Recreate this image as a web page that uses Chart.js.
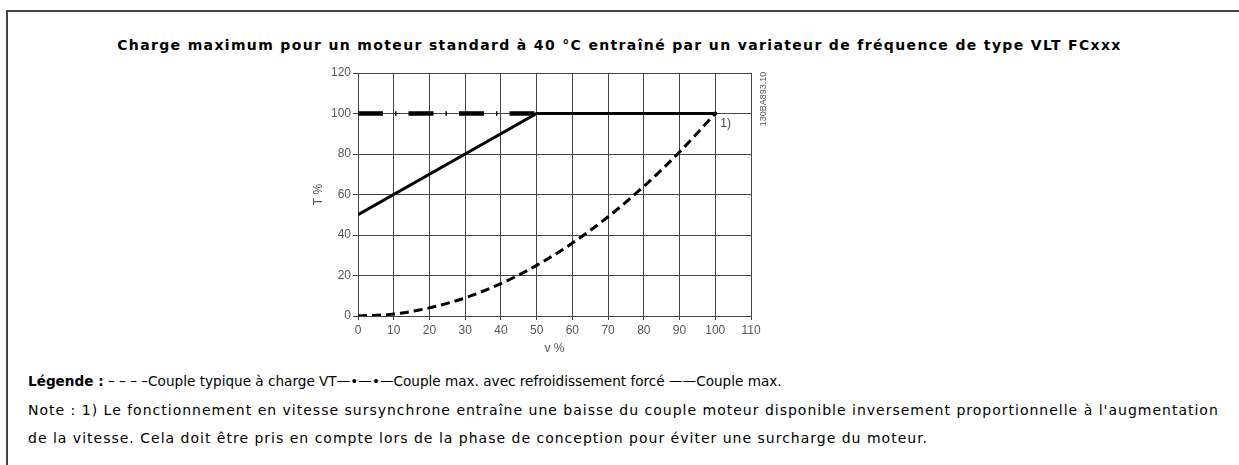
<!DOCTYPE html>
<html lang="fr">
<head>
<meta charset="utf-8">
<title>Charge maximum pour un moteur standard</title>
<script src="https://cdn.jsdelivr.net/npm/chart.js@4/dist/chart.umd.min.js"></script>
<style>
  html, body { margin: 0; padding: 0; background: #fff; }
  body {
    width: 1239px; height: 465px; position: relative; overflow: hidden;
    font-family: "DejaVu Sans", Verdana, sans-serif; color: #000;
  }
  .frame {
    position: absolute; left: 6px; top: 10px; right: 0; bottom: 0;
    border-top: 2px solid #444; border-left: 2px solid #444;
  }
  .title {
    position: absolute; left: 0; width: 1239px; top: 31px;
    line-height: 28px; text-align: center; font-weight: bold; font-size: 14px;
    letter-spacing: 1.35px;
  }
  .legend, .note {
    position: absolute; left: 28px; line-height: 28px; white-space: nowrap;
  }
  .legend { top: 367px; font-size: 13.6px; }
  .note { top: 396px; font-size: 14px; letter-spacing: 1px; }
  #chart-wrap { position: absolute; left: 300px; top: 60px; width: 480px; height: 300px; }
</style>
</head>
<body>
<div class="frame"></div>
<div class="title">Charge maximum pour un moteur standard à 40 °C entraîné par un variateur de fréquence de type VLT FCxxx</div>
<div id="chart-wrap"><canvas id="loadChart" width="480" height="300"></canvas></div>
<div class="legend"><b>Légende :</b> – – – –Couple typique à charge VT—•—•—Couple max. avec refroidissement forcé ——Couple max.</div>
<div class="note">Note : 1) Le fonctionnement en vitesse sursynchrone entraîne une baisse du couple moteur disponible inversement proportionnelle à l'augmentation<br>de la vitesse. Cela doit être pris en compte lors de la phase de conception pour éviter une surcharge du moteur.</div>

<script>
// Typical torque at variable-torque load (dashed curve)
const speedVT = [0, 10, 20, 30, 40, 50, 60, 70, 80, 90, 100];
const torqueVT = [0, 1, 4, 9, 16, 25, 36, 49, 64, 81, 100];

// Max torque with forced cooling (dash-dot)
const speedForced = [0, 50];
const torqueForced = [100, 100];

// Max torque (solid)
const speedMax = [0, 50, 100];
const torqueMax = [50, 100, 100];

const xTicks = [0, 10, 20, 30, 40, 50, 60, 70, 80, 90, 100, 110];
const yTicks = [0, 20, 40, 60, 80, 100, 120];

const toPoints = (xs, ys) => xs.map((v, i) => ({ x: v, y: ys[i] }));

const tickFont = { family: '"Liberation Sans", Arial, sans-serif', size: 12 };
const gridColor = '#444';

// small texts placed next to the plot: the "1)" marker and the drawing reference
const annotations = {
    id: 'annotations',
    afterDatasetsDraw(chart) {
        const { ctx, chartArea, scales: { x, y } } = chart;
        ctx.save();
        ctx.fillStyle = '#444';
        ctx.textBaseline = 'middle';
        ctx.font = '12px "Liberation Sans", Arial, sans-serif';
        ctx.fillText('1)', x.getPixelForValue(100) + 5, y.getPixelForValue(100) + 10);

        ctx.font = '9px "Liberation Sans", Arial, sans-serif';
        ctx.fillStyle = '#555';
        ctx.textAlign = 'center';
        ctx.translate(chartArea.right + 13, chartArea.top + 26);
        ctx.rotate(-Math.PI / 2);
        ctx.fillText('130BA893.10', 0, 0);
        ctx.restore();
    }
};

new Chart(document.getElementById('loadChart'), {
    type: 'line',
    data: {
        datasets: [
            {
                label: 'Couple max.',
                data: toPoints(speedMax, torqueMax),
                borderColor: '#000',
                borderWidth: 3,
                borderJoinStyle: 'miter',
                pointRadius: [0, 0, 2],
                pointBackgroundColor: '#000',
                pointBorderWidth: 0
            },
            {
                label: 'Couple max. avec refroidissement forcé',
                data: toPoints(speedForced, torqueForced),
                borderColor: '#000',
                borderWidth: 4.5,
                borderDash: [25, 12, 1.5, 12],
                pointRadius: 0
            },
            {
                label: 'Couple typique à charge VT',
                data: toPoints(speedVT, torqueVT),
                borderColor: '#000',
                borderWidth: 3,
                borderDash: [9, 5],
                cubicInterpolationMode: 'monotone',
                pointRadius: 0
            }
        ]
    },
    options: {
        responsive: false,
        animation: false,
        devicePixelRatio: 1,
        layout: { padding: { left: 0, right: 29, top: 13, bottom: 0 } },
        plugins: {
            legend: { display: false },
            tooltip: { enabled: false }
        },
        scales: {
            x: {
                type: 'linear',
                min: 0,
                max: 110,
                afterBuildTicks: s => { s.ticks = xTicks.map(v => ({ value: v })); },
                afterFit: s => { s.height = 44; },
                grid: { color: gridColor, lineWidth: 1, tickLength: 4 },
                border: { color: gridColor },
                ticks: { font: tickFont, color: '#555', padding: 3, maxRotation: 0 },
                title: { display: true, text: 'v %', font: tickFont, color: '#555', padding: { top: 0, bottom: 4 } }
            },
            y: {
                type: 'linear',
                min: 0,
                max: 120,
                afterBuildTicks: s => { s.ticks = yTicks.map(v => ({ value: v })); },
                afterFit: s => { s.width = 58; },
                grid: { color: gridColor, lineWidth: 1, tickLength: 5 },
                border: { color: gridColor },
                ticks: { font: tickFont, color: '#555', padding: 2 },
                title: { display: true, text: 'T %', font: tickFont, color: '#555', padding: { top: 11, bottom: 0 } }
            }
        }
    },
    plugins: [annotations]
});
</script>
</body>
</html>
